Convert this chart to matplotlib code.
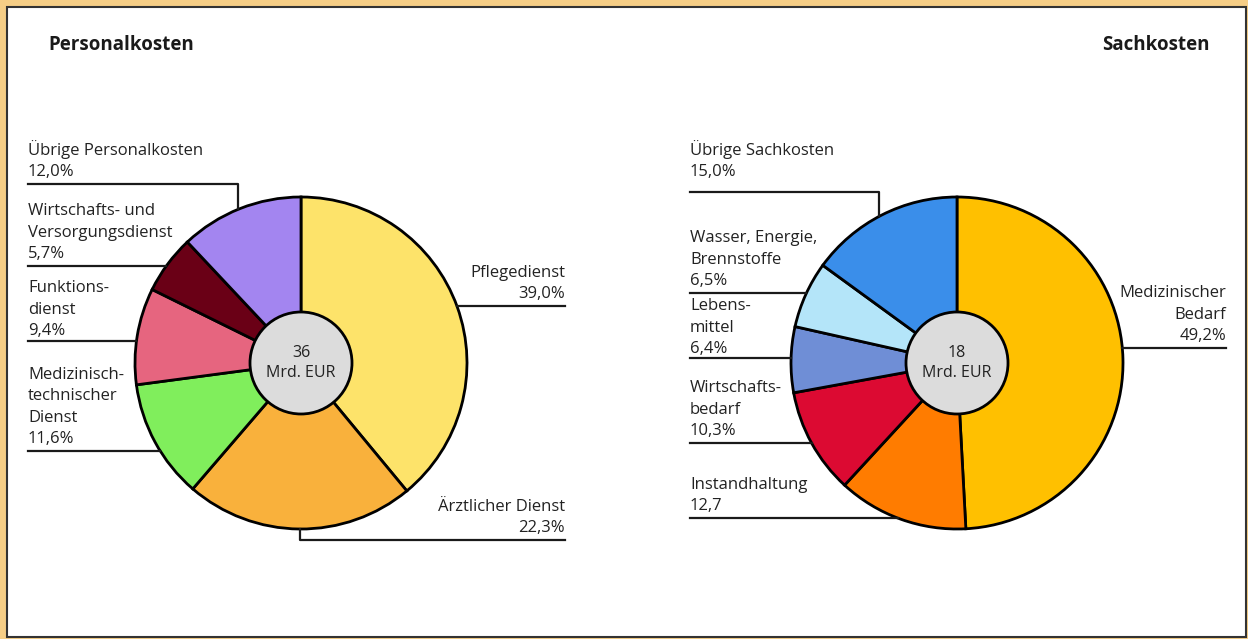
import matplotlib.pyplot as plt
from matplotlib.patches import Rectangle, Circle
import numpy as np

plt.rcParams['font.family'] = ['Open Sans', 'DejaVu Sans']

# Personalkosten (clockwise from top)
pers_labels = ['Pflegedienst\n39,0%', 'Ärztlicher Dienst\n22,3%',
               'Medizinisch-\ntechnischer\nDienst\n11,6%', 'Funktions-\ndienst\n9,4%',
               'Wirtschafts- und\nVersorgungsdienst\n5,7%', 'Übrige Personalkosten\n12,0%']
pers_values = [39.0, 22.3, 11.6, 9.4, 5.7, 12.0]
pers_colors = ['#FDE36A', '#F9B13C', '#80EE5C', '#E6657F', '#6A0016', '#A385F0']

# Sachkosten (clockwise from top)
sach_labels = ['Medizinischer\nBedarf\n49,2%', 'Instandhaltung\n12,7',
               'Wirtschafts-\nbedarf\n10,3%', 'Lebens-\nmittel\n6,4%',
               'Wasser, Energie,\nBrennstoffe\n6,5%', 'Übrige Sachkosten\n15,0%']
sach_values = [49.2, 12.7, 10.3, 6.4, 6.5, 15.0]
sach_colors = ['#FFC000', '#FF7C00', '#DC0A32', '#6F8ED6', '#B4E5F9', '#3A8EEA']

W, H = 1248, 639
fig = plt.figure(figsize=(W / 100, H / 100), dpi=100)
fig.patch.set_facecolor('#F6CE86')
ax = fig.add_axes([0, 0, 1, 1])

FS = 12
LS = 1.45


def Y(y):
    # image row -> data y
    return H - y


def donut(cx, cy, values, colors, total):
    ax.pie(values, colors=colors, startangle=90, counterclock=False,
           center=(cx, Y(cy)), radius=166, normalize=True,
           wedgeprops=dict(edgecolor='black', linewidth=2))
    ax.add_patch(Circle((cx, Y(cy)), 51, facecolor='#DCDCDC', edgecolor='black', lw=2, zorder=5))
    ax.text(cx, Y(cy), total + '\nMrd. EUR', ha='center', va='center', fontsize=11.5,
            linespacing=1.3, color='#222222', zorder=6)


def edge_x(cx, cy, y, side):
    d = np.sqrt(max(166 ** 2 - (y - cy) ** 2, 0))
    return cx - d if side == 'left' else cx + d


lc = '#1a1a1a'


def left_label(text, x0, line_y, cx, cy, drop_x=None, gap=4):
    ax.text(x0, Y(line_y - gap), text, ha='left', va='bottom', fontsize=FS,
            linespacing=LS, color='#222222')
    if drop_x is None:
        x1 = edge_x(cx, cy, line_y, 'left')
        ax.plot([x0, x1], [Y(line_y), Y(line_y)], color=lc, lw=1.6)
    else:
        yb = cy - np.sqrt(166 ** 2 - (drop_x - cx) ** 2)
        ax.plot([x0, drop_x, drop_x], [Y(line_y), Y(line_y), Y(yb)], color=lc, lw=1.6)


def right_label(text, x1, line_y, cx, cy, drop_x=None, gap=4):
    ax.text(x1, Y(line_y - gap), text, ha='right', va='bottom', fontsize=FS,
            linespacing=LS, color='#222222')
    if drop_x is None:
        x0 = edge_x(cx, cy, line_y, 'right')
        ax.plot([x0, x1], [Y(line_y), Y(line_y)], color=lc, lw=1.6)
    else:
        yb = cy + np.sqrt(166 ** 2 - (drop_x - cx) ** 2)
        ax.plot([drop_x, drop_x, x1], [Y(yb), Y(line_y), Y(line_y)], color=lc, lw=1.6)


# frame
ax.add_patch(Rectangle((7, 2), W - 9, H - 9, facecolor='white', edgecolor='#333333', lw=1.5, zorder=0))

# left chart
lcx, lcy = 301, 363
donut(lcx, lcy, pers_values, pers_colors, '36')
right_label(pers_labels[0], 565, 306, lcx, lcy)
right_label(pers_labels[1], 565, 540, lcx, lcy, drop_x=300)
left_label(pers_labels[2], 28, 451, lcx, lcy)
left_label(pers_labels[3], 28, 341, lcx, lcy, gap=2)
left_label(pers_labels[4], 28, 266, lcx, lcy)
left_label(pers_labels[5], 28, 184, lcx, lcy, drop_x=238)

# right chart
rcx, rcy = 957, 363
donut(rcx, rcy, sach_values, sach_colors, '18')
right_label(sach_labels[0], 1226, 348, rcx, rcy)
left_label(sach_labels[1], 690, 518, rcx, rcy)
left_label(sach_labels[2], 690, 443, rcx, rcy)
left_label(sach_labels[3], 690, 358, rcx, rcy, gap=1)
left_label(sach_labels[4], 690, 293, rcx, rcy)
left_label(sach_labels[5], 690, 192, rcx, rcy, drop_x=879, gap=12)

ax.text(48, Y(45), 'Personalkosten', ha='left', va='center', fontsize=13.5,
        fontweight='bold', color='#1a1a1a')
ax.text(1210, Y(45), 'Sachkosten', ha='right', va='center', fontsize=13.5,
        fontweight='bold', color='#1a1a1a')

ax.set_xlim(0, W)
ax.set_ylim(0, H)
ax.set_aspect('auto')
ax.axis('off')

plt.savefig('out.png', dpi=100, facecolor=fig.get_facecolor())
